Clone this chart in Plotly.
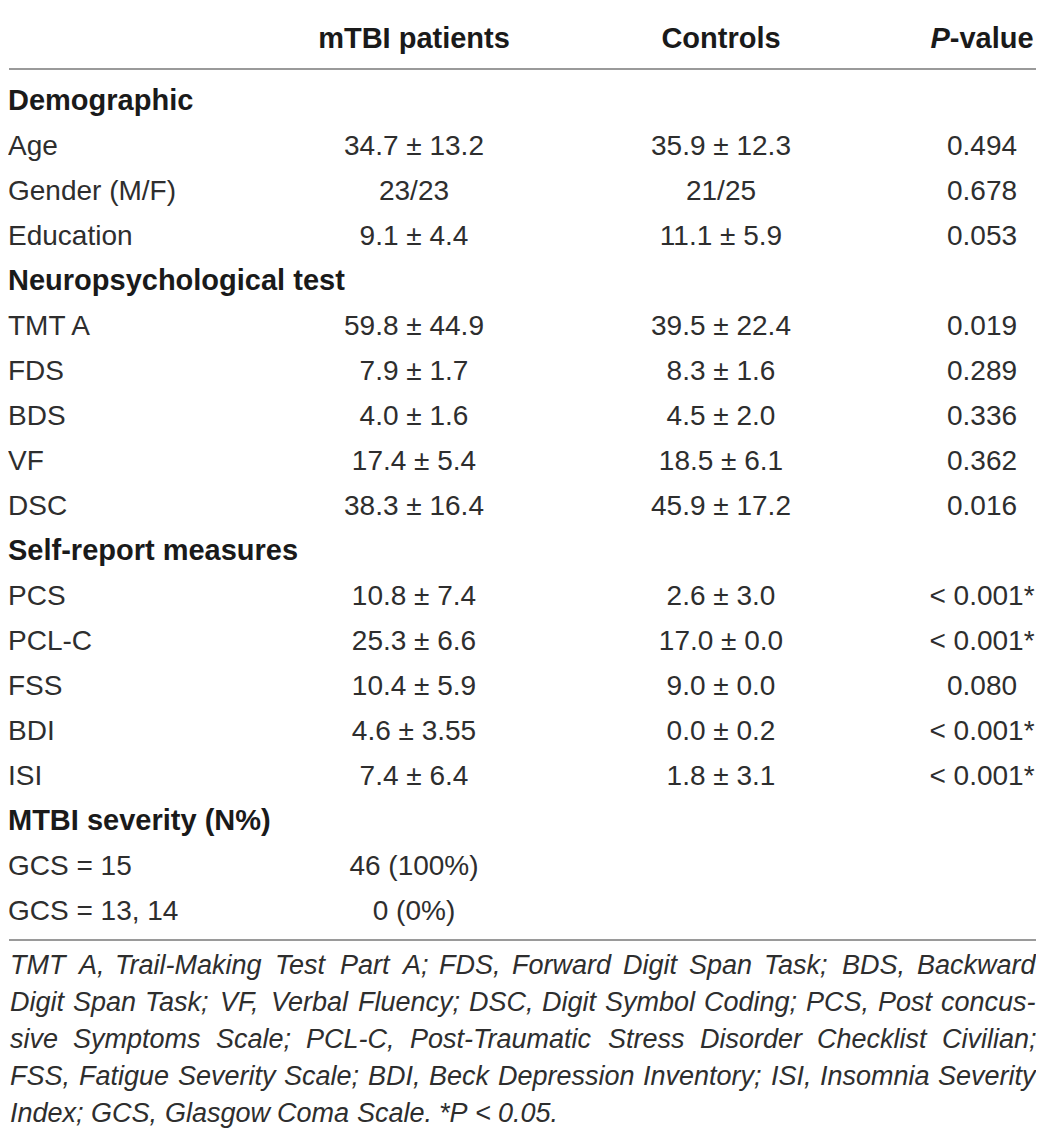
import plotly.graph_objects as go

# ---- data ----
col_headers = ["mTBI patients", "Controls", "<i>P</i>-value"]
row_labels = ["Demographic", "Age", "Gender (M/F)", "Education",
              "Neuropsychological test", "TMT A", "FDS", "BDS", "VF", "DSC",
              "Self-report measures", "PCS", "PCL-C", "FSS", "BDI", "ISI",
              "MTBI severity (N%)", "GCS = 15", "GCS = 13, 14"]
is_section = [True, False, False, False,
              True, False, False, False, False, False,
              True, False, False, False, False, False,
              True, False, False]
mtbi_vals = ["", "34.7 ± 13.2", "23/23", "9.1 ± 4.4",
             "", "59.8 ± 44.9", "7.9 ± 1.7", "4.0 ± 1.6", "17.4 ± 5.4", "38.3 ± 16.4",
             "", "10.8 ± 7.4", "25.3 ± 6.6", "10.4 ± 5.9", "4.6 ± 3.55", "7.4 ± 6.4",
             "", "46 (100%)", "0 (0%)"]
control_vals = ["", "35.9 ± 12.3", "21/25", "11.1 ± 5.9",
                "", "39.5 ± 22.4", "8.3 ± 1.6", "4.5 ± 2.0", "18.5 ± 6.1", "45.9 ± 17.2",
                "", "2.6 ± 3.0", "17.0 ± 0.0", "9.0 ± 0.0", "0.0 ± 0.2", "1.8 ± 3.1",
                "", "", ""]
p_vals = ["", "0.494", "0.678", "0.053",
          "", "0.019", "0.289", "0.336", "0.362", "0.016",
          "", "< 0.001*", "< 0.001*", "0.080", "< 0.001*", "< 0.001*",
          "", "", ""]
footnote_lines = [
    "TMT A, Trail-Making Test Part A; FDS, Forward Digit Span Task; BDS, Backward",
    "Digit Span Task; VF, Verbal Fluency; DSC, Digit Symbol Coding; PCS, Post concus-",
    "sive Symptoms Scale; PCL-C, Post-Traumatic Stress Disorder Checklist Civilian;",
    "FSS, Fatigue Severity Scale; BDI, Beck Depression Inventory; ISI, Insomnia Severity",
    "Index; GCS, Glasgow Coma Scale. *P < 0.05.",
]

# ---- layout constants ----
W, H = 1044, 1135
OFF = 8  # browser body margin
ROW0, STEP = 103, 45
def ypos(px):
    return (px - ROW0) / STEP

X_LABEL, X_MTBI, X_CTRL, X_P = 8, 414, 721, 982
X_RIGHT = 1034
FONT = "Liberation Sans, Arial, Helvetica, sans-serif"
TXT = "#2e2e2e"
BOLD_C = "#1a1a1a"
RULE = "#9a9a9a"
SZ = 28
SZB = 29
SZF = 27

# Arial / Liberation Sans advance widths (1/1000 em) used to justify footnote lines
_w = {' ': 278, ',': 278, ';': 278, '.': 278, '-': 333, '*': 389, '<': 584,
      '(': 333, ')': 333, '0': 556, '5': 556, '%': 889}
_up = dict(zip("ABCDEFGHIJKLMNOPQRSTUVWXYZ",
               [667, 667, 722, 722, 667, 611, 778, 722, 278, 500, 667, 556, 833,
                722, 778, 667, 778, 722, 667, 611, 722, 667, 944, 667, 667, 611]))
_lo = dict(zip("abcdefghijklmnopqrstuvwxyz",
               [556, 556, 500, 556, 556, 278, 556, 556, 222, 222, 500, 222, 833,
                556, 556, 556, 556, 333, 500, 278, 556, 500, 722, 500, 500, 500]))
_w.update(_up); _w.update(_lo)
def text_w(s, size):
    return sum(_w.get(c, 556) for c in s) * size / 1000.0

rows = list(range(len(row_labels)))
fig = go.Figure()

sec_rows = [i for i in rows if is_section[i]]
item_rows = [i for i in rows if not is_section[i]]

fig.add_trace(go.Scatter(
    x=[X_LABEL] * len(sec_rows), y=sec_rows,
    text=["<b>" + row_labels[i] + "</b>" for i in sec_rows],
    mode="text", textposition="middle right",
    textfont=dict(family=FONT, size=SZB, color=BOLD_C), hoverinfo="skip"))
fig.add_trace(go.Scatter(
    x=[X_LABEL] * len(item_rows), y=item_rows,
    text=[row_labels[i] for i in item_rows],
    mode="text", textposition="middle right",
    textfont=dict(family=FONT, size=SZ, color=TXT), hoverinfo="skip"))
for xc, vals in [(X_MTBI, mtbi_vals), (X_CTRL, control_vals), (X_P, p_vals)]:
    fig.add_trace(go.Scatter(
        x=[xc] * len(rows), y=rows, text=vals,
        mode="text", textposition="middle center",
        textfont=dict(family=FONT, size=SZ, color=TXT), hoverinfo="skip"))

# header
fig.add_trace(go.Scatter(
    x=[X_MTBI, X_CTRL, X_P], y=[ypos(41)] * 3,
    text=["<b>" + h + "</b>" for h in col_headers],
    mode="text", textposition="middle center",
    textfont=dict(family=FONT, size=SZB, color=BOLD_C), hoverinfo="skip"))

# rules
for py in [5, 69, 940]:
    fig.add_shape(type="line", x0=9, x1=1036, y0=ypos(py), y1=ypos(py),
                  xref="x", yref="y", line=dict(color=RULE, width=2))

# footnote (justified, italic)
for k, line in enumerate(footnote_lines):
    y = ypos(965 + 37 * k)
    words = line.split(" ")
    last = (k == len(footnote_lines) - 1)
    widths = [text_w(wd, SZF) for wd in words]
    if last:
        gap = text_w(" ", SZF)
    else:
        gap = (X_RIGHT - X_LABEL - sum(widths)) / (len(words) - 1)
    x = X_LABEL
    for wd, ww in zip(words, widths):
        t = wd.replace("*P", "*<i>P</i>")
        fig.add_annotation(x=x, y=y, xref="x", yref="y",
                           text="<i>" + t + "</i>", showarrow=False,
                           xanchor="left", yanchor="middle",
                           font=dict(family=FONT, size=SZF, color=TXT))
        x += ww + gap

fig.update_layout(
    width=W - OFF, height=H - OFF, margin=dict(l=0, r=0, t=0, b=0),
    paper_bgcolor="white", plot_bgcolor="white", showlegend=False,
    xaxis=dict(range=[OFF, W], visible=False, fixedrange=True),
    yaxis=dict(range=[ypos(H), ypos(OFF)], visible=False, fixedrange=True),
)
fig.write_html("out.html")
